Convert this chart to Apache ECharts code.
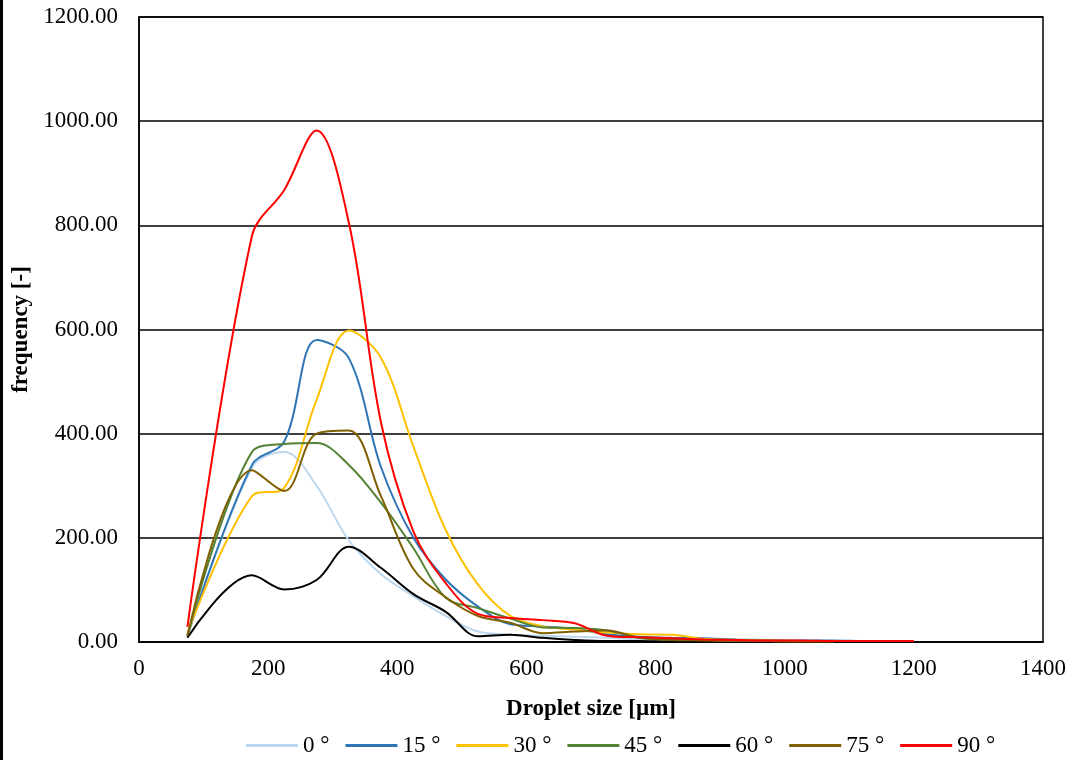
<!DOCTYPE html>
<html>
<head>
<meta charset="utf-8">
<script src="https://cdn.jsdelivr.net/npm/echarts@6/dist/echarts.min.js"></script>
<style>
  html, body { margin: 0; padding: 0; background: #ffffff; }
  #chart { width: 1073px; height: 760px; }
</style>
</head>
<body>
<div id="chart"></div>
<script>
// Droplet size bins [µm]
const sizes = [75, 175, 225, 275, 325, 375, 425, 475, 525, 575, 625, 675, 725, 775, 825, 875, 925, 975, 1025, 1075, 1125, 1175, 1200];

// Frequency per bin for each spray angle (null = no value in that bin)
const deg0  = [10, 335, 365, 300, 195, 130, 88, 50, 20, 14, 12, 10, 8, 5, 4, 3, 2, 2, 1, 1, null, null, null];
const deg15 = [12, 340, 385, 580, 545, 335, 200, 120, 68, 34, 30, 25, 15, 10, 8, 7, 5, 4, 3, 3, 2, 2, 2];
const deg30 = [17, 280, 296, 465, 598, 545, 375, 215, 110, 50, 30, 24, 18, 15, 14, 6, 4, 3, 2, 1, null, null, null];
const deg45 = [12, 365, 380, 382, 340, 267, 180, 85, 65, 45, 28, 27, 22, 8, 5, 4, 3, 2, 1, 1, null, null, null];
const deg60 = [8, 128, 101, 119, 183, 142, 92, 58, 11, 14, 8, 4, 2, 2, 1, 1, 1, 1, 0, 0, null, null, null];
const deg75 = [12, 330, 290, 400, 406, 279, 140, 86, 50, 37, 17, 20, 22, 8, 4, 3, 2, 2, 1, 1, null, null, null];
const deg90 = [29, 780, 868, 982, 805, 420, 212, 113, 54, 46, 42, 36, 12, 9, 7, 5, 4, 3, 3, 2, 2, 2, 2];

const seriesNames = ['0 °', '15 °', '30 °', '45 °', '60 °', '75 °', '90 °'];
const seriesValues = [deg0, deg15, deg30, deg45, deg60, deg75, deg90];
const seriesColors = ['#BDD7EE', '#2E75B6', '#FFC000', '#548235', '#000000', '#7F6000', '#FF0000'];

const xTicks = { min: 0, max: 1400, step: 200 };
const yTicks = { min: 0, max: 1200, step: 200 };

const font = '"Liberation Serif", "Times New Roman", serif';

function pairs(values) {
  const out = [];
  values.forEach((v, i) => { if (v !== null) out.push([sizes[i], v]); });
  return out;
}

const chart = echarts.init(document.getElementById('chart'), null, { renderer: 'canvas' });

chart.setOption({
  animation: false,
  backgroundColor: '#ffffff',
  textStyle: { fontFamily: font, color: '#000' },
  graphic: [
    { type: 'rect', left: 0, top: 0, shape: { width: 3, height: 760 }, style: { fill: '#000' }, silent: true }
  ],
  grid: {
    left: 139, right: 30, top: 17, bottom: 118,
    show: true, borderColor: '#000', borderWidth: 1.5, backgroundColor: 'transparent'
  },
  legend: {
    top: 729,
    left: 241,
    itemWidth: 52,
    itemHeight: 3,
    itemGap: 16,
    icon: 'rect',
    textStyle: { fontFamily: font, fontSize: 23, color: '#000' },
    data: seriesNames
  },
  xAxis: {
    type: 'value',
    min: xTicks.min, max: xTicks.max, interval: xTicks.step,
    name: 'Droplet size [µm]',
    nameLocation: 'middle',
    nameGap: 56,
    nameTextStyle: { fontFamily: font, fontSize: 23, fontWeight: 'bold', color: '#000' },
    axisLine: { show: true, lineStyle: { color: '#000', width: 1.5 } },
    axisTick: { show: false },
    axisLabel: { fontFamily: font, fontSize: 23, color: '#000', margin: 15, formatter: v => String(v) },
    splitLine: { show: false }
  },
  yAxis: {
    type: 'value',
    min: yTicks.min, max: yTicks.max, interval: yTicks.step,
    name: 'frequency [-]',
    nameLocation: 'middle',
    nameRotate: 90,
    nameGap: 105,
    nameTextStyle: { fontFamily: font, fontSize: 23, fontWeight: 'bold', color: '#000' },
    axisLine: { show: true, lineStyle: { color: '#000', width: 1.5 } },
    axisTick: { show: false },
    axisLabel: { fontFamily: font, fontSize: 23, color: '#000', margin: 21, formatter: v => v.toFixed(2) },
    splitLine: { show: true, lineStyle: { color: '#000', width: 1.5 } }
  },
  series: seriesNames.map((name, i) => ({
    name: name,
    type: 'line',
    data: pairs(seriesValues[i]),
    smooth: 0.35,
    symbol: 'none',
    lineStyle: { color: seriesColors[i], width: 2 },
    itemStyle: { color: seriesColors[i] }
  }))
});
</script>
</body>
</html>
